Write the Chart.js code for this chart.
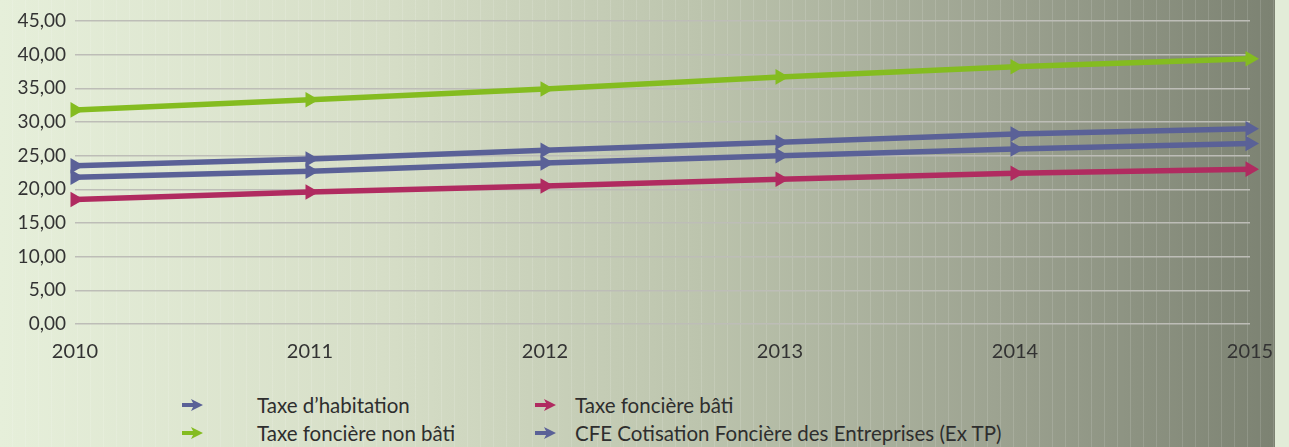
<!DOCTYPE html>
<html lang="fr">
<head>
<meta charset="utf-8">
<title>Évolution des taxes</title>
<script src="https://cdn.jsdelivr.net/npm/chart.js@4.4.1/dist/chart.umd.min.js"></script>
<style>
  html, body { margin: 0; padding: 0; width: 1289px; height: 447px; overflow: hidden; background: #e2ecd8; }
  #fond {
    position: absolute; left: 0; top: 0; width: 1275px; height: 447px;
    background:
      repeating-linear-gradient(90deg, rgba(255,255,255,0) 0 12px, rgba(255,255,255,0.13) 12px 13px),
      linear-gradient(90deg, #e6efda 0%, #d6dec7 30%, #bcc4ad 55%, #9da391 78%, #7c8272 100%);
  }
  #graphique { position: absolute; left: 0; top: 0; }
  .legende-item { position: absolute; height: 24px; line-height: 24px; font-family: "Lato", sans-serif; font-size: 20.5px; color: #2e2e2e; white-space: nowrap; }
  .legende-item canvas { position: absolute; top: 5px; }
</style>
</head>
<body>
<div id="fond"></div>
<canvas id="graphique" width="1289" height="380"></canvas>
<div id="legende"></div>

<script>
//? Données du graphique.

const annees = ["2010", "2011", "2012", "2013", "2014", "2015"];

const taxeHabitation = [23.5, 24.5, 25.8, 27.0, 28.2, 29.0];
const taxeFonciereBati = [18.5, 19.6, 20.5, 21.5, 22.4, 23.0];
const taxeFonciereNonBati = [31.8, 33.3, 34.9, 36.7, 38.2, 39.4];
const cfe = [21.8, 22.7, 23.9, 25.0, 26.0, 26.8];

const nomsSeries = [
  "Taxe d\u2019habitation",
  "Taxe foncière bâti",
  "Taxe foncière non bâti",
  "CFE Cotisation Foncière des Entreprises (Ex TP)",
];
const couleursSeries = ["#5a6197", "#b02b60", "#84bc20", "#5a6197"];
const valeursSeries = [taxeHabitation, taxeFonciereBati, taxeFonciereNonBati, cfe];

//? -------------------------------------------------

//? Construction du graphique.

const constructionDuGraphique = () => {
  try {
    const ctx = document.getElementById("graphique").getContext("2d");

    const datasets = valeursSeries.map((valeurs, i) => ({
      label: nomsSeries[i],
      data: valeurs,
      borderColor: couleursSeries[i],
      backgroundColor: couleursSeries[i],
      borderWidth: 5.5,
      pointStyle: "triangle",
      rotation: 90,
      pointRadius: 9,
      pointBorderWidth: 0,
      tension: 0,
    }));

    new Chart(ctx, {
      type: "line",
      data: { labels: annees, datasets },
      options: {
        responsive: false,
        animation: false,
        layout: { padding: { top: 21, right: 39, bottom: 0, left: 0 } },
        plugins: { legend: { display: false }, tooltip: { enabled: false } },
        scales: {
          x: {
            offset: false,
            grid: { display: false },
            border: { display: false },
            ticks: {
              color: "#333",
              font: { family: "Lato", size: 20 },
              padding: 8,
              maxRotation: 0,
            },
            afterFit: (scale) => { scale.height = 56; },
          },
          y: {
            min: 0,
            max: 45,
            grid: { color: "#bdbdb7", lineWidth: 1.5, drawTicks: false },
            border: { display: false },
            ticks: {
              stepSize: 5,
              color: "#333",
              font: { family: "Lato", size: 19 },
              padding: 9,
              callback: (v) => v.toFixed(2).replace(".", ","),
            },
            afterFit: (scale) => { scale.width = 75; },
          },
        },
      },
    });
  } catch (error) {
    console.log("🔴 ERREUR | Construction graphique :", error);
  }
};

//? -------------------------------------------------

//? Construction de la légende (deux colonnes).

const dessinerFleche = (canvas, couleur) => {
  const c = canvas.getContext("2d");
  c.fillStyle = couleur;
  c.fillRect(0, 5, 14, 4);
  c.beginPath();
  c.moveTo(9, 1);
  c.lineTo(21, 7);
  c.lineTo(9, 13);
  c.lineTo(12, 7);
  c.closePath();
  c.fill();
};

const constructionLegende = () => {
  const emplacements = [
    { fleche: 182, texte: 257, haut: 393 },
    { fleche: 535, texte: 575, haut: 393 },
    { fleche: 182, texte: 257, haut: 421 },
    { fleche: 535, texte: 575, haut: 421 },
  ];
  const conteneur = document.getElementById("legende");
  nomsSeries.forEach((nom, i) => {
    const e = emplacements[i];
    const item = document.createElement("div");
    item.className = "legende-item";
    item.style.left = e.fleche + "px";
    item.style.top = e.haut + "px";
    const cv = document.createElement("canvas");
    cv.width = 22;
    cv.height = 14;
    cv.style.left = "0px";
    dessinerFleche(cv, couleursSeries[i]);
    const span = document.createElement("span");
    span.textContent = nom;
    span.style.position = "absolute";
    span.style.left = e.texte - e.fleche + "px";
    item.appendChild(cv);
    item.appendChild(span);
    conteneur.appendChild(item);
  });
};

constructionDuGraphique();
constructionLegende();
</script>
</body>
</html>
